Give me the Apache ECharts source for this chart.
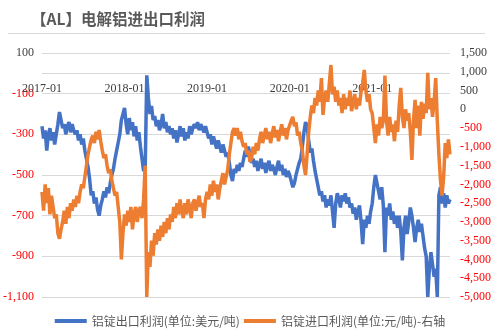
<!DOCTYPE html>
<html>
<head>
<meta charset="utf-8">
<script src="https://cdn.jsdelivr.net/npm/echarts@6/dist/echarts.min.js"></script>
<style>
  html, body { margin: 0; padding: 0; background: #ffffff; }
  #chart { width: 500px; height: 336px; }
</style>
</head>
<body>
<div id="chart"></div>
<script>
// Weekly aluminium export profit (USD/t, left axis), one array per year
const exportProfit2017 = [-260,-320,-280,-380,-300,-270,-330,-290,-350,-300,-250,-190,-230,-270,-250,-300,-260,-240,-290,-250,-280,-300,-280,-330,-300,-350,-320,-380,-420,-460,-520,-600,-580,-640,-610,-670,-700,-650,-620,-580,-610,-560,-590,-540,-500,-470,-420,-380,-340,-300,-230,-200];
const exportProfit2018 = [-170,-250,-300,-220,-280,-240,-310,-260,-330,-290,-360,-420,-480,-470,-10,-120,-200,-160,-230,-210,-260,-230,-280,-250,-200,-270,-240,-290,-260,-300,-270,-320,-280,-340,-300,-260,-310,-270,-330,-290,-320,-260,-300,-270,-250,-270,-240,-280,-250,-270,-290,-260];
const exportProfit2019 = [-290,-320,-300,-350,-310,-340,-370,-330,-360,-390,-350,-380,-410,-390,-440,-500,-530,-470,-490,-450,-480,-440,-460,-420,-380,-410,-360,-400,-440,-420,-460,-430,-480,-450,-420,-470,-440,-490,-450,-430,-480,-450,-470,-500,-460,-430,-480,-450,-500,-470,-510,-480];
const exportProfit2020 = [-500,-530,-560,-540,-500,-470,-440,-420,-360,-290,-240,-260,-330,-390,-370,-430,-480,-520,-560,-600,-580,-630,-600,-660,-620,-650,-600,-680,-760,-640,-590,-620,-660,-600,-630,-590,-640,-610,-660,-640,-690,-660,-720,-680,-650,-730,-840,-720,-760,-700,-740,-680];
const exportProfit2021 = [-640,-560,-500,-540,-580,-620,-560,-650,-880,-660,-700,-640,-720,-680,-740,-700,-760,-700,-780,-920,-760,-700,-790,-730,-660,-700,-760,-830,-760,-720,-780,-740,-800,-860,-900,-1100,-960,-880,-940,-1000,-960,-1100,-600,-560,-640,-590,-660,-600,-640,-620];

// Weekly aluminium import profit (CNY/t, right axis), one array per year
const importProfit2017 = [-2200,-2700,-2000,-2500,-2100,-2800,-2300,-2600,-2900,-2800,-3300,-3450,-3200,-3000,-2700,-3050,-2600,-2900,-2500,-2700,-2400,-2600,-2300,-2500,-2200,-2000,-2100,-1800,-1500,-1200,-1000,-800,-700,-900,-600,-800,-550,-850,-1100,-1300,-1200,-1500,-1700,-1600,-1900,-2100,-2300,-2200,-2600,-3000,-4000,-3300];
const importProfit2018 = [-2800,-3100,-2700,-3000,-2600,-3200,-2800,-2600,-3000,-2700,-2600,-2900,-2400,-1500,-5000,-3800,-4200,-3500,-3900,-3300,-3600,-3200,-3500,-3100,-3400,-3000,-3300,-2900,-3200,-2800,-3000,-2600,-2900,-2500,-2800,-2400,-2700,-2900,-2500,-2800,-2400,-2600,-2900,-2500,-2400,-2700,-2500,-2300,-2600,-2500,-2900,-2400];
const importProfit2019 = [-2200,-2400,-2000,-2300,-1900,-2200,-2000,-2400,-2100,-1900,-1700,-2000,-1800,-1600,-1200,-900,-600,-500,-700,-500,-800,-600,-850,-1000,-900,-1200,-1100,-1400,-1300,-1000,-1200,-900,-1100,-800,-600,-900,-700,-500,-800,-600,-900,-650,-450,-750,-550,-850,-600,-400,-700,-500,-800,-550];
const importProfit2020 = [-500,-300,-200,-450,-350,-700,-600,-900,-1100,-1500,-1750,-1200,-600,-200,100,-100,300,100,500,200,830,-150,300,500,200,700,1180,400,600,200,500,100,300,-100,400,0,300,100,500,-50,200,400,0,300,100,500,700,1050,500,200,400,0];
const importProfit2021 = [-100,-500,-900,-400,-700,-200,-500,-300,900,-300,-700,-200,-600,-400,-850,-300,-600,100,570,-200,-500,0,-300,-100,-600,-1350,-300,250,-500,100,-700,200,-250,150,-100,970,0,300,-200,200,830,-300,-1200,-1900,-2300,-1800,-900,-1300,-800,-1200];

const exportProfit = [].concat(exportProfit2017, exportProfit2018, exportProfit2019, exportProfit2020, exportProfit2021);
const importProfit = [].concat(importProfit2017, importProfit2018, importProfit2019, importProfit2020, importProfit2021);

// Weekly dates (Fridays) starting 2017-01-06, one per data point
const firstWeek = Date.UTC(2017, 0, 6);
const weeks = exportProfit.map(function (_, i) {
  return new Date(firstWeek + i * 7 * 86400000).toISOString().slice(0, 10);
});

const seriesNames = ['铝锭出口利润(单位:美元/吨)', '铝锭进口利润(单位:元/吨)-右轴'];
const titleText = '【AL】电解铝进出口利润';

const tickFont = 'Liberation Serif';
const cjkFont = 'Noto Sans CJK SC';
const fmt = function (v) { return Number(v).toLocaleString('en-US'); };
const signColor = function (v) { return Number(v) < 0 ? '#ff0000' : '#404040'; };

const chart = echarts.init(document.getElementById('chart'), null, { renderer: 'canvas' });
chart.setOption({
  animation: false,
  backgroundColor: '#ffffff',
  title: {
    text: titleText,
    left: 26,
    top: 6,
    textStyle: { fontFamily: cjkFont, fontSize: 15.5, fontWeight: 'bold', color: '#595959' }
  },
  graphic: [{
    type: 'line',
    shape: { x1: 8, y1: 33.5, x2: 485, y2: 33.5 },
    style: { stroke: '#d9d9d9', lineWidth: 1 },
    silent: true
  }],
  legend: {
    data: seriesNames,
    bottom: 4,
    left: 'center',
    icon: 'rect',
    itemWidth: 32,
    itemHeight: 4,
    itemGap: 4,
    textStyle: { fontFamily: cjkFont, fontSize: 12, color: '#595959' }
  },
  grid: { left: 40, right: 50, top: 53, bottom: 39, containLabel: false },
  xAxis: {
    type: 'category',
    data: weeks,
    boundaryGap: false,
    position: 'top',
    axisLine: { show: false },
    axisTick: { show: false },
    splitLine: { show: false },
    axisLabel: {
      inside: true,
      interval: function (index, value) {
        return value.slice(5, 7) === '01' && Number(value.slice(8, 10)) <= 7;
      },
      formatter: function (value) { return value.slice(0, 7); },
      fontFamily: tickFont,
      fontSize: 12,
      color: '#404040',
      margin: 30,
      hideOverlap: false
    }
  },
  yAxis: [{
    type: 'value',
    min: -1100,
    max: 100,
    interval: 200,
    axisLine: { show: false },
    axisTick: { show: false },
    splitLine: { lineStyle: { color: '#d9d9d9', width: 1 } },
    axisLabel: { formatter: fmt, color: signColor, fontFamily: tickFont, fontSize: 12, margin: 8 }
  }, {
    type: 'value',
    min: -5000,
    max: 1500,
    interval: 500,
    position: 'right',
    axisLine: { show: false },
    axisTick: { show: false },
    splitLine: { show: false },
    axisLabel: { formatter: fmt, color: signColor, fontFamily: tickFont, fontSize: 12, margin: 10 }
  }],
  series: [{
    name: seriesNames[0],
    type: 'line',
    yAxisIndex: 0,
    data: exportProfit,
    showSymbol: false,
    color: '#4472c4',
    lineStyle: { color: '#4472c4', width: 3.5 },
    // category axis line at zero on the left scale
    markLine: {
      silent: true,
      symbol: 'none',
      label: { show: false },
      lineStyle: { color: '#d9d9d9', width: 1, type: 'solid' },
      data: [{ yAxis: 0 }],
      z: 1
    }
  }, {
    name: seriesNames[1],
    type: 'line',
    yAxisIndex: 1,
    data: importProfit,
    showSymbol: false,
    color: '#ed7d31',
    lineStyle: { color: '#ed7d31', width: 3.5 }
  }]
});
</script>
</body>
</html>
